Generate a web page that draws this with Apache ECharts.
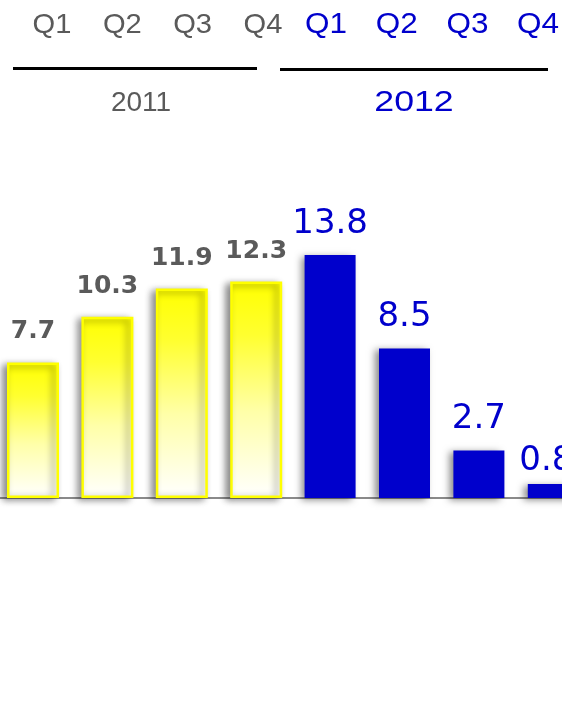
<!DOCTYPE html>
<html>
<head>
<meta charset="utf-8">
<style>
  html, body { margin: 0; padding: 0; background: #ffffff; }
  #chart { width: 562px; height: 717px; }
</style>
<script src="https://cdn.jsdelivr.net/npm/echarts@6/dist/echarts.min.js"></script>
</head>
<body>
<div id="chart"></div>
<script>
// Quarterly values, two years side by side
const categories = ['2011 Q1', '2011 Q2', '2011 Q3', '2011 Q4', '2012 Q1', '2012 Q2', '2012 Q3', '2012 Q4'];
const values2011 = [7.7, 10.3, 11.9, 12.3];
const values2012 = [13.8, 8.5, 2.7, 0.8];
const quarterLabels = ['Q1', 'Q2', 'Q3', 'Q4'];
const years = ['2011', '2012'];

const GREY = '#5a5a5a';
const BLUE = '#0000cc';
const ARIAL = '"Liberation Sans", Arial, sans-serif';

const chart = echarts.init(document.getElementById('chart'), null, { renderer: 'canvas' });

const barShadow = {
  shadowColor: 'rgba(0,0,0,0.45)',
  shadowBlur: 7,
  shadowOffsetX: -4,
  shadowOffsetY: 2
};

// 2011 bars: yellow fading to white, with a yellow outline
const data2011 = values2011.map(v => ({ value: v }));
// 2012 bars: solid blue
const data2012 = values2012.map(v => ({ value: v }));
// the last, tiny bar's label sits a little lower and to the left
data2012[data2012.length - 1].label = { offset: [-7, 8] };

const series2011 = categories.map((c, i) => i < 4 ? data2011[i] : '-');
const series2012 = categories.map((c, i) => i >= 4 ? data2012[i - 4] : '-');

function headerText(text, x, y, color, size, scaleX) {
  return {
    type: 'text', x: x, y: y, scaleX: scaleX || 1,
    style: {
      text: text, fill: color, fontSize: size, fontFamily: ARIAL,
      align: 'center', verticalAlign: 'middle'
    }
  };
}

// header: quarter names, divider lines and year names
const graphics = [];
quarterLabels.forEach((q, i) => {
  graphics.push(headerText(q, 52 + 70.3 * i, 25, GREY, 28, 1.04));
  graphics.push(headerText(q, 326 + 70.7 * i, 25, BLUE, 30, 1.05));
});
graphics.push({
  type: 'line', shape: { x1: 13, y1: 68.5, x2: 257, y2: 68.5 },
  style: { stroke: '#000000', lineWidth: 3 }
});
graphics.push({
  type: 'line', shape: { x1: 280, y1: 69.5, x2: 548, y2: 69.5 },
  style: { stroke: '#000000', lineWidth: 3 }
});
graphics.push(headerText(years[0], 141, 103, GREY, 28, 1));
graphics.push(headerText(years[1], 414, 103, BLUE, 30, 1.19));

chart.setOption({
  backgroundColor: '#ffffff',
  animation: false,
  grid: {
    left: -4.7, width: 595.2, top: 216.4, bottom: 219,
    containLabel: false, outerBoundsMode: 'none'
  },
  xAxis: {
    type: 'category',
    data: categories,
    axisLine: { show: true, lineStyle: { color: '#8a8a8a', width: 2 } },
    axisTick: { show: false },
    axisLabel: { show: false },
    splitLine: { show: false }
  },
  yAxis: {
    type: 'value', min: 0, max: 16,
    show: false,
    splitLine: { show: false }
  },
  graphic: graphics,
  series: [
    {
      type: 'bar',
      data: series2011,
      barWidth: 52,
      barGap: '-100%',
      clip: false,
      itemStyle: Object.assign({
        color: new echarts.graphic.LinearGradient(0, 0, 0, 1, [
          { offset: 0, color: '#ffff00' },
          { offset: 0.25, color: '#ffff30' },
          { offset: 0.6, color: '#ffffa8' },
          { offset: 1, color: '#ffffff' }
        ]),
        borderColor: '#ffff00',
        borderWidth: 2.5
      }, barShadow),
      label: {
        show: true, position: 'top', distance: 18,
        color: GREY, fontWeight: 'bold', fontSize: 25,
        fontFamily: '"DejaVu Sans", sans-serif'
      }
    },
    {
      type: 'bar',
      data: series2012,
      barWidth: 51,
      barGap: '-100%',
      clip: false,
      itemStyle: Object.assign({ color: BLUE }, barShadow),
      label: {
        show: true, position: 'top', distance: 14,
        color: BLUE, fontSize: 34,
        fontFamily: '"DejaVu Sans", sans-serif'
      }
    }
  ]
});
</script>
</body>
</html>
